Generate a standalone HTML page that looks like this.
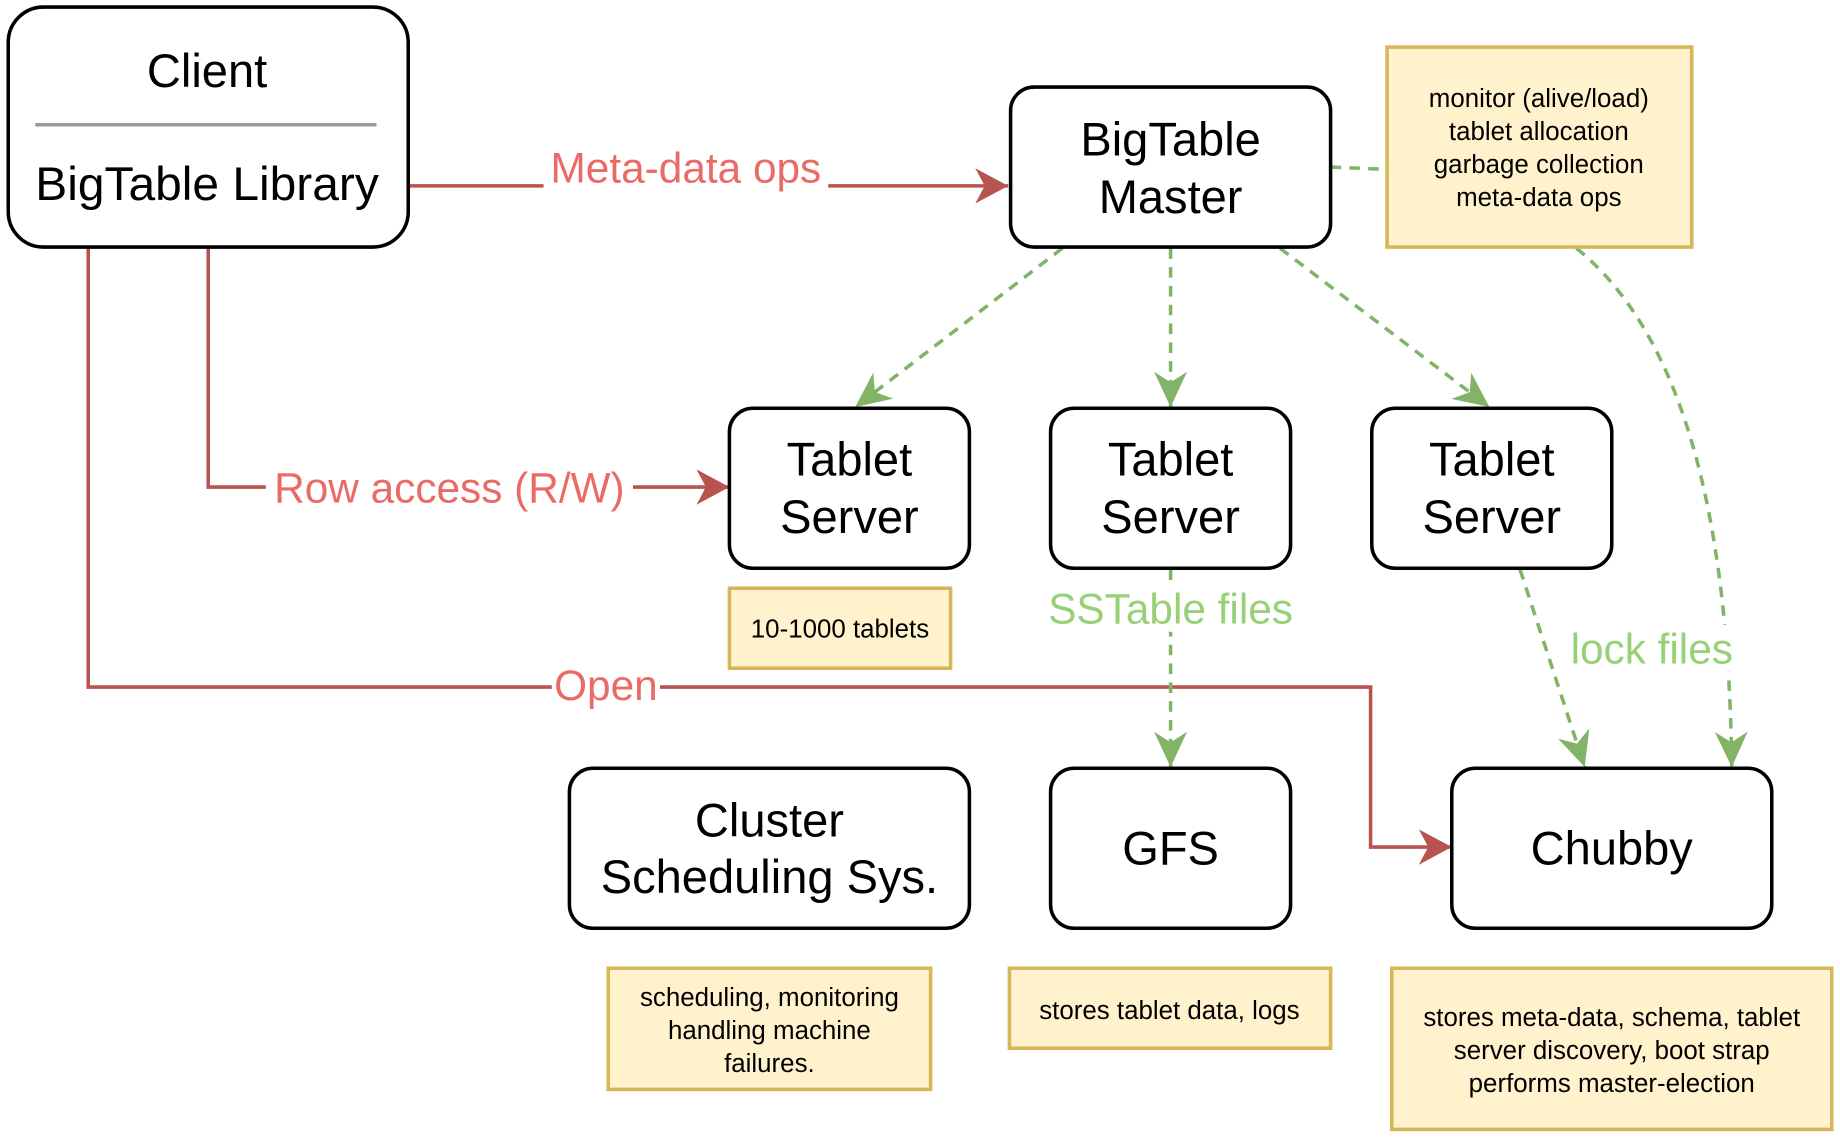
<!DOCTYPE html>
<html><head><meta charset="utf-8"><style>
html,body{margin:0;padding:0;background:#fff;}
svg{display:block;}
text{font-family:"Liberation Sans",Arial,sans-serif;}
</style></head><body>
<svg width="1840" height="1140" viewBox="0 0 1564 969" preserveAspectRatio="none" xmlns="http://www.w3.org/2000/svg">
<defs>
<marker id="ar" markerUnits="userSpaceOnUse" markerWidth="1" markerHeight="1" refX="0" refY="0" orient="auto" overflow="visible">
<path d="M0,0 L-28,-15 L-20,0 L-28,15 Z" fill="#b85450"/>
</marker>
<marker id="ag" markerUnits="userSpaceOnUse" markerWidth="1" markerHeight="1" refX="0" refY="0" orient="auto" overflow="visible">
<path d="M0,0 L-30,-14 L-21,0 L-30,14 Z" fill="#82b366"/>
</marker>
</defs>
<g fill="none" stroke-width="3">
<path d="M347,158 H857" stroke="#b85450" marker-end="url(#ar)"/>
<path d="M177,210 V414 H620" stroke="#b85450" marker-end="url(#ar)"/>
<path d="M75,210 V584 H1165 V720 H1234" stroke="#b85450" marker-end="url(#ar)"/>
<g stroke="#82b366" stroke-dasharray="9,7">
<path d="M903,211 L727,346" marker-end="url(#ag)"/>
<path d="M995,211 V346" marker-end="url(#ag)"/>
<path d="M1088,211 L1266,346" marker-end="url(#ag)"/>
<path d="M1131,142 L1179,144"/>
<path d="M1340,211 C1450,300 1470,500 1472,652" marker-end="url(#ag)"/>
<path d="M1292,484 L1347,652" marker-end="url(#ag)"/>
<path d="M995,484 V652" marker-end="url(#ag)"/>
</g>
</g>
<g font-size="36" text-anchor="middle">
<rect x="462" y="122" width="242" height="40" fill="#fff"/>
<text x="583" y="155" fill="#ea6b66">Meta-data ops</text>
<rect x="226" y="394" width="312" height="42" fill="#fff"/>
<text x="382" y="427" fill="#ea6b66">Row access (R/W)</text>
<rect x="469" y="562" width="92" height="40" fill="#fff"/>
<text x="515" y="595" fill="#ea6b66">Open</text>
<rect x="885" y="497" width="220" height="40" fill="#fff"/>
<text x="995" y="530" fill="#97d077">SSTable files</text>
<rect x="1332" y="531" width="146" height="40" fill="#fff"/>
<text x="1404" y="564" fill="#97d077">lock files</text>
</g>
<g fill="#fff" stroke="#000" stroke-width="3">
<rect x="7" y="6" width="340" height="204" rx="30"/>
<rect x="859" y="74" width="272" height="136" rx="20"/>
<rect x="620" y="347" width="204" height="136" rx="20"/>
<rect x="893" y="347" width="204" height="136" rx="20"/>
<rect x="1166" y="347" width="204" height="136" rx="20"/>
<rect x="484" y="653" width="340" height="136" rx="20"/>
<rect x="893" y="653" width="204" height="136" rx="20"/>
<rect x="1234" y="653" width="272" height="136" rx="20"/>
</g>
<line x1="30" y1="106" x2="320" y2="106" stroke="#999" stroke-width="3"/>
<g fill="#fff2cc" stroke="#d6b656" stroke-width="3">
<rect x="1179" y="40" width="259" height="170"/>
<rect x="620" y="500" width="188" height="68"/>
<rect x="517" y="823" width="274" height="103"/>
<rect x="858" y="823" width="273" height="68"/>
<rect x="1183" y="823" width="374" height="137"/>
</g>
<g font-size="40" text-anchor="middle" fill="#000">
<text x="176" y="74">Client</text>
<text x="176" y="170" textLength="292" lengthAdjust="spacingAndGlyphs">BigTable Library</text>
<text x="995" y="132">BigTable</text>
<text x="995" y="181">Master</text>
<text x="722" y="404">Tablet</text><text x="722" y="453">Server</text>
<text x="995" y="404">Tablet</text><text x="995" y="453">Server</text>
<text x="1268" y="404">Tablet</text><text x="1268" y="453">Server</text>
<text x="654" y="711">Cluster</text>
<text x="654" y="759">Scheduling Sys.</text>
<text x="995" y="735">GFS</text>
<text x="1370" y="735">Chubby</text>
</g>
<g font-size="22" text-anchor="middle" fill="#000">
<text x="1308" y="91">monitor (alive/load)</text>
<text x="1308" y="119">tablet allocation</text>
<text x="1308" y="147">garbage collection</text>
<text x="1308" y="175">meta-data ops</text>
<text x="714" y="542">10-1000 tablets</text>
<text x="654" y="855">scheduling, monitoring</text>
<text x="654" y="883">handling machine</text>
<text x="654" y="911">failures.</text>
<text x="994" y="866">stores tablet data, logs</text>
<text x="1370" y="872">stores meta-data, schema, tablet</text>
<text x="1370" y="900">server discovery, boot strap</text>
<text x="1370" y="928">performs master-election</text>
</g>
</svg>
</body></html>
